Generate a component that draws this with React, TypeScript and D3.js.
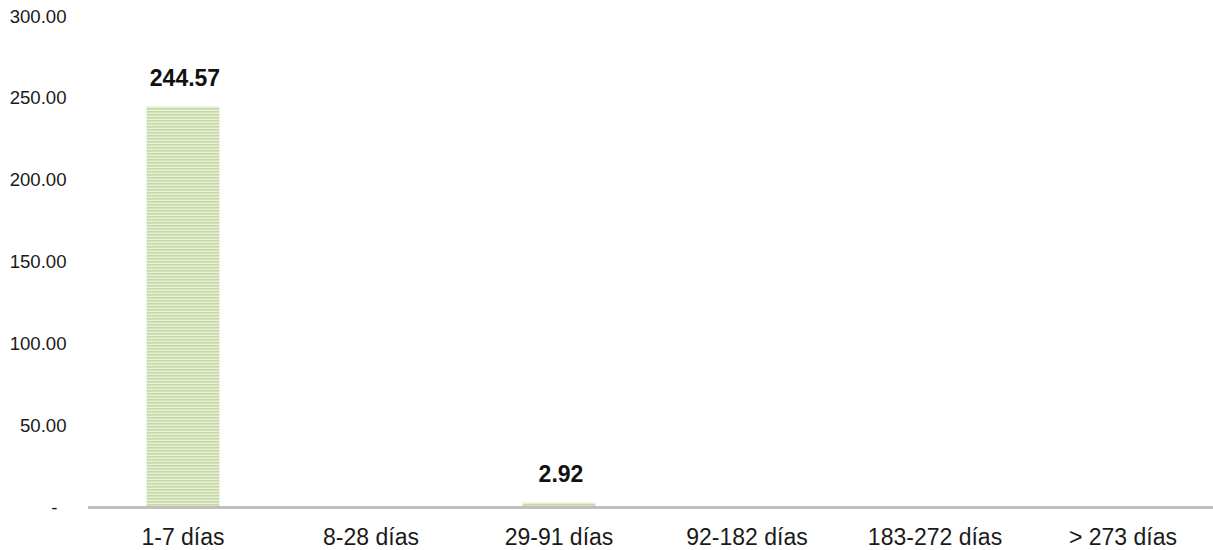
import React from "react";
import * as d3 from "d3";

const categories = ["1-7 días", "8-28 días", "29-91 días", "92-182 días", "183-272 días", "> 273 días"];
const values = [244.57, 0, 2.92, 0, 0, 0];
const yTicks = [0, 50, 100, 150, 200, 250, 300];

const W = 1213;
const H = 550;
const FONT = "'Liberation Sans', Arial, sans-serif";

export default function App() {
  const x = d3
    .scaleBand<string>()
    .domain(categories)
    .range([89, 1217])
    .paddingInner(0.612)
    .paddingOuter(0.306);
  const y = d3.scaleLinear().domain([0, 300]).range([507.5, 15.8]);
  const fmt = d3.format(".2f");

  return (
    <svg
      width={W}
      height={H}
      style={{ position: "absolute", left: 0, top: 0, background: "#fff" }}
      fontFamily={FONT}
    >
      <defs>
        <pattern id="stripes" patternUnits="userSpaceOnUse" width={6} height={3}>
          <rect width={6} height={3} fill="#e8efda" />
          <rect y={0} width={6} height={1.6} fill="#c6d9a2" />
        </pattern>
      </defs>
      <rect width={W} height={H} fill="#fff" />
      {yTicks.map((t) => (
        <text
          key={t}
          x={t === 0 ? 57.5 : 66.5}
          y={y(t) + 6.7}
          textAnchor="end"
          fontSize={18.6}
          fill="#1a1a1a"
        >
          {t === 0 ? "-" : fmt(t)}
        </text>
      ))}
      {categories.map((c, i) =>
        values[i] > 0 ? (
          <rect
            key={c}
            x={x(c)!}
            y={y(values[i])}
            width={x.bandwidth()}
            height={y(0) - y(values[i])}
            fill="url(#stripes)"
          />
        ) : null
      )}
      <line x1={88} x2={W} y1={y(0)} y2={y(0)} stroke="#bfbfbf" strokeWidth={3} />
      {categories.map((c, i) => (
        <text
          key={c}
          x={x(c)! + x.bandwidth() / 2}
          y={545}
          textAnchor="middle"
          fontSize={23}
          fill="#1a1a1a"
        >
          {c}
        </text>
      ))}
      {categories.map((c, i) =>
        values[i] > 0 ? (
          <text
            key={"l" + c}
            x={x(c)! + x.bandwidth() / 2 + 2}
            y={y(values[i]) - 21}
            textAnchor="middle"
            fontSize={23}
            fontWeight="bold"
            fill="#111"
          >
            {fmt(values[i])}
          </text>
        ) : null
      )}
    </svg>
  );
}
